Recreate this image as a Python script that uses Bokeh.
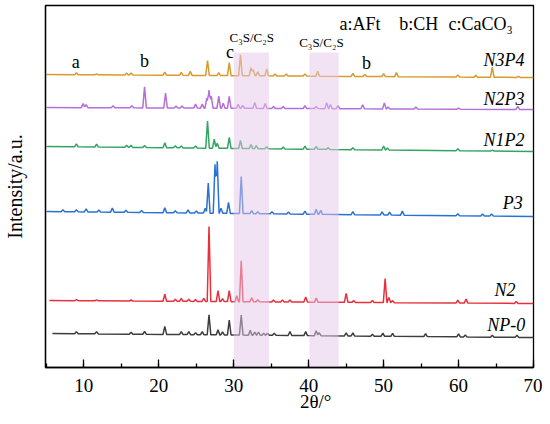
from bokeh.plotting import figure
from bokeh.models import Label, SingleIntervalTicker, FixedTicker
from bokeh.embed import file_html
from bokeh.resources import INLINE

# ---------------- data ----------------
names = ["NP-0", "N2", "P3", "N1P2", "N2P3", "N3P4"]
colors = ["#3d3d3d", "#e8303c", "#2a72d2", "#33a461", "#b46fd9", "#d89a2b"]
offset_left = [34, 67, 156, 221, 260, 293]
offset_right = [30, 64, 151, 216, 258, 290]
x_start = [5.8, 5.4, 5.0, 5.0, 5.0, 5.0]
x_end = 70.0

np0_pos = [9.0, 11.7, 16.3, 18.1, 20.8, 23.0, 24.0, 24.9, 25.8, 26.7, 27.9, 28.5, 29.4, 31.0,
           32.2, 32.8, 33.3, 34.0, 34.5, 35.4, 37.5, 39.6, 41.0, 41.4, 45.0, 45.9, 48.5, 49.9,
           51.2, 55.6, 60.0, 60.9, 64.5, 67.8]
np0_int = [2, 2, 2, 3, 8, 3, 3, 2, 3, 20, 5, 3, 15, 20,
           5, 3, 3, 2, 2, 2, 4, 4, 5, 3, 3, 3, 2, 3,
           3, 3, 3, 2, 2, 2]

n2_pos = [9.0, 11.7, 16.3, 20.8, 22.2, 23.0, 24.0, 24.9, 26.0, 26.7, 27.9, 28.5, 29.4, 30.4,
          31.0, 32.4, 33.2, 35.3, 36.5, 37.5, 39.6, 41.0, 45.0, 46.0, 48.5, 50.2, 50.7, 51.2,
          59.9, 61.0, 67.7]
n2_int = [1, 1, 1, 7, 2, 3, 2, 2, 3, 75, 11, 3, 11, 6,
          41, 4, 2, 2, 2, 2, 5, 4, 9, 2, 2, 24, 5, 2,
          3, 4, 2]

p3_pos = [7.2, 9.0, 10.3, 12.0, 13.8, 15.6, 17.7, 20.8, 22.2, 23.9, 25.0, 26.2, 26.6, 27.5,
          27.8, 28.3, 29.3, 31.0, 32.4, 33.2, 35.1, 37.3, 39.5, 41.0, 41.6, 45.9, 49.8, 50.8,
          52.5, 59.9, 63.2, 64.4]
p3_int = [2, 2, 3, 2, 4, 2, 2, 5, 2, 3, 2, 5, 30, 49,
          52, 5, 11, 37, 3, 2, 2, 2, 3, 5, 4, 3, 3, 3,
          4, 2, 2, 2]

n1p2_pos = [9.0, 11.7, 15.7, 16.3, 18.1, 20.8, 22.2, 23.0, 24.9, 26.5, 27.4, 27.8, 29.4, 30.9,
            32.3, 33.0, 34.4, 36.6, 39.5, 41.0, 42.6, 45.9, 50.0, 50.5, 59.9, 64.5]
n1p2_int = [3, 3, 2, 2, 2, 5, 2, 2, 2, 27, 9, 5, 11, 8,
            4, 3, 2, 2, 3, 3, 2, 2, 4, 2, 2, 1]

n2p3_pos = [9.9, 10.3, 13.9, 16.4, 18.1, 20.9, 22.3, 23.1, 24.9, 25.8, 26.4, 26.7, 27.0, 28.0,
            28.6, 29.4, 30.6, 31.2, 32.8, 34.2, 35.3, 36.6, 39.5, 41.0, 42.4, 42.9, 43.9, 47.2,
            50.1, 50.6, 54.3, 60.0, 67.9]
n2p3_int = [4, 3, 2, 2, 21, 15, 2, 2, 4, 4, 10, 18, 12, 12,
            5, 12, 4, 3, 6, 5, 2, 2, 3, 2, 6, 4, 3, 4,
            6, 2, 2, 1, 3]

n3p4_pos = [9.0, 11.7, 15.7, 16.3, 20.8, 23.0, 24.2, 26.5, 28.0, 29.4, 30.9, 32.3, 32.6, 33.2,
            34.4, 35.5, 37.0, 39.5, 41.2, 45.9, 47.5, 50.0, 51.7, 59.9, 62.3, 64.5, 68.0]
n3p4_int = [2, 1, 2, 2, 3, 3, 4, 15, 3, 13, 21, 8, 6, 4,
            7, 2, 2, 2, 5, 3, 2, 3, 4, 2, 2, 10, 1]

peak_pos = [np0_pos, n2_pos, p3_pos, n1p2_pos, n2p3_pos, n3p4_pos]
peak_int = [np0_int, n2_int, p3_int, n1p2_int, n2p3_int, n3p4_int]

band_left = [30.0, 40.1]
band_right = [34.7, 44.0]
band_top = [315, 315]

# ---------------- figure ----------------
FONT = "Liberation Serif"
p = figure(width=542, height=416, x_range=(4.88, 70), y_range=(0, 362),
           output_backend="svg", toolbar_location=None,
           min_border_left=42, min_border_right=9, min_border_top=5, min_border_bottom=49)
p.background_fill_color = "white"
p.border_fill_color = "white"
p.xgrid.visible = False
p.ygrid.visible = False
p.outline_line_color = "black"
p.outline_line_width = 1.3
p.outline_line_alpha = 1.0

ax = p.xaxis[0]
ax.ticker = SingleIntervalTicker(interval=10, num_minor_ticks=2)
ax.axis_line_width = 1.3
ax.axis_line_color = "black"
ax.major_tick_in = 8
ax.major_tick_out = 0
ax.minor_tick_in = 4
ax.minor_tick_out = 0
ax.major_tick_line_width = 1.3
ax.minor_tick_line_width = 1.3
ax.major_label_text_font = FONT
ax.major_label_text_font_size = "19px"
ax.major_label_text_color = "black"
ax.major_label_standoff = 11
ax.axis_label = "\u00a0" * 11 + "2θ/°"
ax.axis_label_text_font = FONT
ax.axis_label_text_font_size = "19px"
ax.axis_label_text_font_style = "normal"
ax.axis_label_text_color = "black"
ax.axis_label_standoff = -4

ay = p.yaxis[0]
ay.ticker = FixedTicker(ticks=[])
ay.major_tick_in = 0
ay.major_tick_out = 0
ay.minor_tick_in = 0
ay.minor_tick_out = 0
ay.major_label_standoff = 0
ay.axis_line_color = "black"
ay.axis_line_width = 1.3
ay.axis_label = "Intensity/a.u."
ay.axis_label_text_font = FONT
ay.axis_label_text_font_size = "20px"
ay.axis_label_text_font_style = "normal"
ay.axis_label_text_color = "black"
ay.axis_label_standoff = 20

HW = 0.24  # half width of a peak on the 2theta axis (drawing style)

for name, col, ol, orr, xs, pp, pi in zip(names, colors, offset_left, offset_right,
                                          x_start, peak_pos, peak_int):
    verts = {xs, x_end}
    for q in pp:
        for v in (q - HW, q, q + HW):
            if xs <= v <= x_end:
                verts.add(round(v, 4))
    vx = sorted(verts)
    vy = []
    for v in vx:
        base = ol + (orr - ol) * (v - xs) / (x_end - xs)
        s = 0.0
        for q, h in zip(pp, pi):
            d = abs(v - q)
            if d < HW:
                s += h * (1 - d / HW)
        vy.append(base + s)
    p.line(vx, vy, line_color=col, line_width=1.5)

p.quad(left=band_left, right=band_right, bottom=[0, 0], top=band_top,
       fill_color="#e6c8ea", fill_alpha=0.5, line_color=None)

# series labels
lab_x = [68.9, 67.6, 68.55, 68.8, 68.8, 68.8]
lab_y = [42.5, 77.5, 165, 228, 268.5, 307.5]
for n, lx, ly in zip(names, lab_x, lab_y):
    p.add_layout(Label(x=lx, y=ly, text=n, text_font=FONT, text_font_style="italic",
                       text_font_size="18px", text_align="right", text_baseline="middle",
                       text_color="black"))

def txt(x, y, t, size="18px", align="center"):
    p.add_layout(Label(x=x, y=y, text=t, text_font=FONT, text_font_size=size,
                       text_align=align, text_baseline="middle", text_color="black"))

txt(8.9, 306, "a")
txt(18.1, 307, "b")
txt(29.5, 316, "c")
txt(47.7, 305, "b")
txt(32.4, 330, "C₃S/C₂S", size="13px")
txt(41.7, 325, "C₃S/C₂S", size="13px")
txt(44.1, 344, "a:AFt", align="left")
txt(52.1, 344, "b:CH", align="left")
txt(58.65, 344, "c:CaCO₃", align="left")

open("out.html", "w").write(file_html(p, INLINE))
